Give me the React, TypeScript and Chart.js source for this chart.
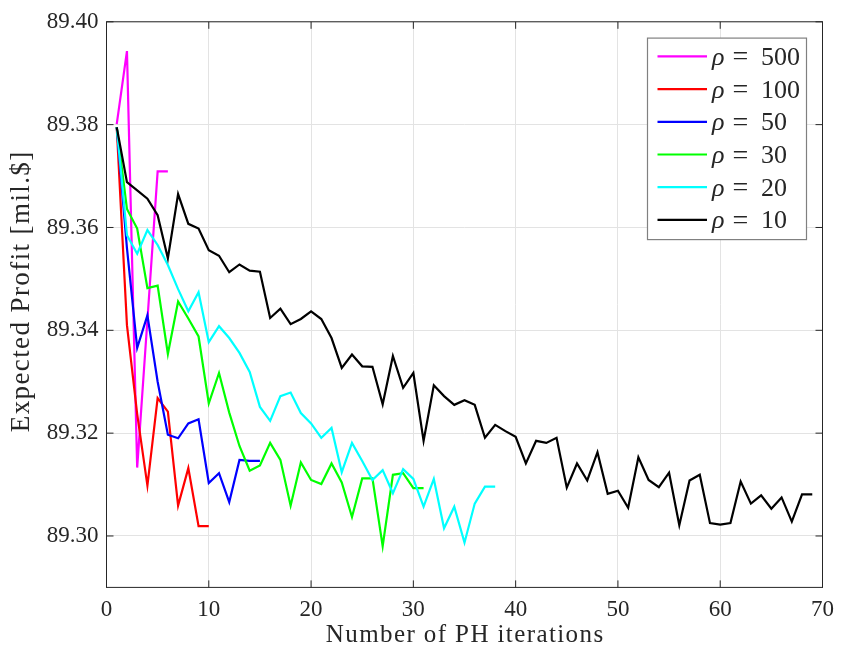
import React, { useEffect, useRef } from "react";
import { Chart, registerables } from "chart.js";

Chart.register(...registerables);

const rhoLabels = ["500", "100", "50", "30", "20", "10"];
const seriesColors = ["#ff00ff", "#ff0000", "#0000ff", "#00ff00", "#00ffff", "#000000"];

const rho500 = [89.3801, 89.3943, 89.3133, 89.342, 89.3709, 89.3709];
const rho100 = [89.3795, 89.341, 89.3237, 89.3098, 89.3268, 89.3242, 89.3059, 89.3132, 89.3019, 89.3019];
const rho50 = [
  89.3795, 89.356, 89.3366, 89.3429, 89.330, 89.3197, 89.319, 89.3219, 89.3227, 89.3103,
  89.3122, 89.3066, 89.3148, 89.3146, 89.3146,
];
const rho30 = [
  89.3795, 89.3636, 89.3598, 89.3482, 89.3487, 89.3354, 89.3456, 89.3423, 89.3388, 89.3258,
  89.3317, 89.324, 89.3175, 89.3127, 89.3137, 89.3181, 89.3148, 89.3059, 89.3143, 89.3109,
  89.3101, 89.3141, 89.3104, 89.3037, 89.3112, 89.3112, 89.298, 89.3119, 89.3122, 89.3093,
  89.3093,
];
const rho20 = [
  89.3795, 89.3585, 89.3549, 89.3595, 89.3566, 89.3527, 89.348, 89.3437, 89.3474, 89.3377,
  89.3408, 89.3385, 89.3356, 89.3319, 89.3251, 89.3224, 89.3272, 89.3279, 89.3239, 89.3219,
  89.3191, 89.321, 89.3124, 89.3181, 89.3146, 89.3109, 89.3128, 89.3083, 89.313, 89.3111,
  89.3057, 89.3111, 89.3015, 89.3057, 89.2987, 89.3063, 89.3096, 89.3096,
];
const rho10 = [
  89.3795, 89.3688, 89.3672, 89.3656, 89.3624, 89.354, 89.3665, 89.3607, 89.3598, 89.3556,
  89.3545, 89.3513, 89.3528, 89.3516, 89.3514, 89.3424, 89.3442, 89.3412, 89.3422, 89.3437,
  89.3422, 89.3385, 89.3327, 89.3353, 89.333, 89.3329, 89.3256, 89.335, 89.3288, 89.3317,
  89.3185, 89.3293, 89.3272, 89.3255, 89.3264, 89.3255, 89.3191, 89.3216, 89.3204, 89.3193,
  89.3141, 89.3185, 89.3181, 89.3191, 89.3094, 89.3141, 89.3108, 89.3163, 89.3082, 89.3088,
  89.3055, 89.3153, 89.3109, 89.3095, 89.3123, 89.3021, 89.3108, 89.3119, 89.3025, 89.3022,
  89.3025, 89.3106, 89.3063, 89.3079, 89.3053, 89.3075, 89.3028, 89.3081, 89.3081,
];

const xTicks = [0, 10, 20, 30, 40, 50, 60, 70];
const yTicks = [89.3, 89.32, 89.34, 89.36, 89.38, 89.4];

const xTitle = "Number of PH iterations";
const yTitle = "Expected Profit [mil.$]";

const FONT = "'Liberation Serif', serif";
const AXIS_COLOR = "#262626";

export default function App() {
  const ref = useRef<HTMLCanvasElement>(null);

  useEffect(() => {
    document.body.style.margin = "0";
    const canvas = ref.current;
    if (!canvas) return;
    const series = [rho500, rho100, rho50, rho30, rho20, rho10];
    const datasets = series.map((vals, i) => ({
      label: "ρ = " + rhoLabels[i],
      data: vals.map((v, j) => ({ x: j + 1, y: v })),
      borderColor: seriesColors[i],
      backgroundColor: seriesColors[i],
      borderWidth: 2.2,
      pointRadius: 0,
      tension: 0,
      order: series.length - i,
    }));

    const framePlugin = {
      id: "frame",
      afterDraw(chart: any) {
        const ctx = chart.ctx as CanvasRenderingContext2D;
        const { left, right, top, bottom } = chart.chartArea;
        const xs = chart.scales.x;
        const ys = chart.scales.y;
        ctx.save();
        ctx.strokeStyle = AXIS_COLOR;
        ctx.lineWidth = 1;
        ctx.strokeRect(left, top, right - left, bottom - top);
        const tl = 7;
        ctx.beginPath();
        yTicks.forEach((v) => {
          const py = ys.getPixelForValue(v);
          ctx.moveTo(left, py);
          ctx.lineTo(left + tl, py);
          ctx.moveTo(right, py);
          ctx.lineTo(right - tl, py);
        });
        xTicks.forEach((v) => {
          const px = xs.getPixelForValue(v);
          ctx.moveTo(px, bottom);
          ctx.lineTo(px, bottom - tl);
          ctx.moveTo(px, top);
          ctx.lineTo(px, top + tl);
        });
        ctx.stroke();

        // legend
        const bx = right - 175;
        const by = top + 16.3;
        const bw = 159;
        const bh = 201.5;
        ctx.fillStyle = "#ffffff";
        ctx.fillRect(bx, by, bw, bh);
        ctx.strokeStyle = "#808080";
        ctx.lineWidth = 1.2;
        ctx.strokeRect(bx, by, bw, bh);
        chart.data.datasets.forEach((ds: any, i: number) => {
          const ly = by + 18.3 + i * 32.7;
          ctx.strokeStyle = ds.borderColor;
          ctx.lineWidth = 2.2;
          ctx.beginPath();
          ctx.moveTo(bx + 10, ly);
          ctx.lineTo(bx + 59.5, ly);
          ctx.stroke();
          ctx.fillStyle = AXIS_COLOR;
          ctx.textBaseline = "alphabetic";
          ctx.textAlign = "left";
          ctx.font = "italic 26px " + FONT;
          ctx.fillText("ρ", bx + 64.5, ly + 8.5);
          ctx.font = "28px " + FONT;
          ctx.textAlign = "center";
          ctx.fillText("=", bx + 93, ly + 9);
          ctx.font = "26px " + FONT;
          ctx.textAlign = "left";
          ctx.fillText(rhoLabels[i], bx + 113.5, ly + 8.5);
        });

        // axis titles (drawn last, with letter spacing)
        ctx.fillStyle = AXIS_COLOR;
        ctx.textAlign = "center";
        ctx.textBaseline = "middle";
        (ctx as any).letterSpacing = "1.4px";
        ctx.font = "25px " + FONT;
        ctx.fillText(xTitle, (left + right) / 2 + 0.7, 635);
        ctx.translate(22, 292);
        ctx.rotate(-Math.PI / 2);
        ctx.font = "27px " + FONT;
        ctx.fillText(yTitle, 0.7, 0);
        ctx.restore();
      },
    };

    const chart = new Chart(canvas, {
      type: "line",
      data: { datasets },
      plugins: [framePlugin],
      options: {
        responsive: false,
        animation: false,
        layout: { padding: { top: 18.7, right: 15, left: 0, bottom: 0 } },
        plugins: {
          legend: { display: false },
          tooltip: { enabled: false },
        },
        scales: {
          x: {
            type: "linear",
            min: 0,
            max: 70,
            afterBuildTicks: (scale: any) => {
              scale.ticks = xTicks.map((v) => ({ value: v }));
            },
            afterFit: (scale: any) => {
              scale.height = 67.6;
            },
            grid: { color: "#e3e3e3", lineWidth: 1, drawTicks: false },
            border: { display: false },
            ticks: {
              padding: 9,
              color: AXIS_COLOR,
              font: { family: FONT, size: 23 },
              maxRotation: 0,
              callback: (v: any) => String(v),
            },
            title: { display: false },
          },
          y: {
            type: "linear",
            min: 89.29,
            max: 89.4,
            afterBuildTicks: (scale: any) => {
              scale.ticks = yTicks.map((v) => ({ value: v }));
            },
            afterFit: (scale: any) => {
              scale.width = 106.5;
            },
            grid: { color: "#e3e3e3", lineWidth: 1, drawTicks: false },
            border: { display: false },
            ticks: {
              padding: 8,
              color: AXIS_COLOR,
              font: { family: FONT, size: 23 },
              callback: (v: any) => Number(v).toFixed(2),
            },
            title: { display: false },
          },
        },
      },
    });
    return () => chart.destroy();
  }, []);

  return <canvas ref={ref} width={843} height={655} style={{ display: "block" }} />;
}
